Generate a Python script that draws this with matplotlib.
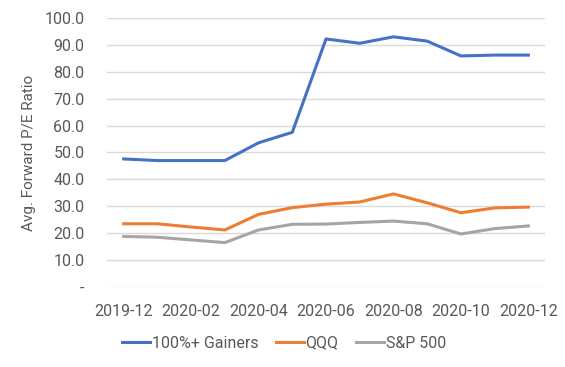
import matplotlib
matplotlib.use("Agg")
import matplotlib.pyplot as plt
from matplotlib import font_manager
from matplotlib.ticker import FuncFormatter

# Données
months = ["2019-12", "2020-01", "2020-02", "2020-03", "2020-04", "2020-05", "2020-06",
          "2020-07", "2020-08", "2020-09", "2020-10", "2020-11", "2020-12"]
gainers = [47.6, 47.0, 47.0, 47.0, 53.6, 57.5, 92.2, 90.6, 93.0, 91.4, 85.9, 86.2, 86.2]
qqq = [23.5, 23.5, 22.3, 21.2, 27.0, 29.5, 30.8, 31.6, 34.6, 31.3, 27.6, 29.4, 29.7]
spx = [18.8, 18.5, 17.5, 16.5, 21.2, 23.3, 23.4, 24.0, 24.5, 23.5, 19.7, 21.7, 22.7]

names = {f.name for f in font_manager.fontManager.ttflist}
narrow = "Liberation Sans Narrow" if "Liberation Sans Narrow" in names else "Roboto"
plt.rcParams["font.family"] = [narrow, "DejaVu Sans"]

text_col = "#595959"
fig = plt.figure(figsize=(5.65, 3.67), dpi=100)
ax = fig.add_axes([0.189, 0.218, 0.776, 0.733])

x = list(range(len(months)))
ax.plot(x, gainers, color="#4472C4", lw=2.2, label="100%+ Gainers", zorder=3)
ax.plot(x, qqq, color="#ED7D31", lw=2.2, label="QQQ", zorder=3)
ax.plot(x, spx, color="#A5A5A5", lw=2.2, label="S&P 500", zorder=3)

ax.set_xlim(-0.5, len(months) - 0.5)
ax.set_ylim(0, 100)
ax.set_yticks(range(0, 101, 10))
ax.yaxis.set_major_formatter(FuncFormatter(lambda v, p: "-" if v == 0 else f"{v:.1f}"))
ax.set_xticks(x[::2])
ax.set_xticklabels(months[::2])

ax.grid(axis="y", color="#D9D9D9", lw=1)
ax.set_axisbelow(True)
for s in ax.spines.values():
    s.set_visible(False)
ax.tick_params(length=0, labelsize=11.5, colors=text_col)
ax.tick_params(axis="y", pad=16)
ax.tick_params(axis="x", pad=12)

ax.set_ylabel("Avg. Forward P/E Ratio", fontsize=11, color=text_col)
ax.yaxis.set_label_coords(-0.162, 0.5)

fig.legend(loc="center", bbox_to_anchor=(284 / 565, 1 - 343 / 367), ncol=3,
           frameon=False, fontsize=11.5, labelcolor=text_col, handlelength=1.75,
           handletextpad=0.1, columnspacing=1.1)

fig.savefig("out.png", dpi=100)
